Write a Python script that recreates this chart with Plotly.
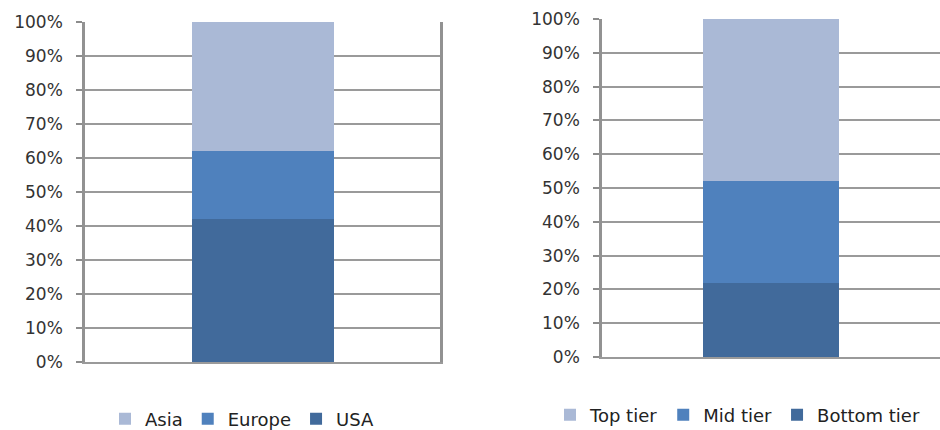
import plotly.graph_objects as go

# Left chart: region shares
left_series = ["USA", "Europe", "Asia"]
left_values = [42, 20, 38]
# Right chart: tier shares
right_series = ["Bottom tier", "Mid tier", "Top tier"]
right_values = [22, 30, 48]
category = [""]
colors = ["#416A9B", "#4F81BD", "#AAB9D6"]
tick_vals = [0, 10, 20, 30, 40, 50, 60, 70, 80, 90, 100]
tick_text = [f"{v}%" for v in tick_vals]

W, H = 940, 430
FONT = "DejaVu Sans, Liberation Sans, sans-serif"

fig = go.Figure()
for name, val, col in zip(left_series, left_values, colors):
    fig.add_trace(go.Bar(x=category, y=[val], name=name, marker=dict(color=col, line=dict(width=0)),
                         xaxis="x", yaxis="y", legend="legend", width=0.4))
for name, val, col in zip(right_series, right_values, colors):
    fig.add_trace(go.Bar(x=category, y=[val], name=name, marker=dict(color=col, line=dict(width=0)),
                         xaxis="x2", yaxis="y2", legend="legend2", width=0.4))

def px_x(p):
    return p / W

def px_y(p):
    return 1 - p / H

yax_common = dict(range=[0, 100], tickvals=tick_vals, ticktext=tick_text,
                  showgrid=True, gridcolor="#9A9A9A", gridwidth=1.5,
                  showline=True, linecolor="#929292", linewidth=2.5,
                  ticks="outside", ticklen=6, tickcolor="#8C8C8C", tickwidth=1.5,
                  ticklabelstandoff=10, automargin=False,
                  tickfont=dict(family=FONT, size=17, color="#333333"),
                  zeroline=False, fixedrange=True)
xax_common = dict(showticklabels=False, showgrid=False, zeroline=False, automargin=False,
                  showline=True, linecolor="#9A9A9A", linewidth=2, ticks="")

fig.update_layout(
    width=W, height=H,
    margin=dict(l=0, r=0, t=0, b=0, autoexpand=False),
    paper_bgcolor="white", plot_bgcolor="white",
    barmode="stack", bargap=0.6,
    xaxis=dict(domain=[px_x(85), px_x(440)], anchor="y", **xax_common),
    yaxis=dict(domain=[px_y(362), px_y(22)], anchor="x", mirror=True, **yax_common),
    xaxis2=dict(domain=[px_x(602), 1.0], anchor="y2", **xax_common),
    yaxis2=dict(domain=[px_y(357), px_y(19)], anchor="x2", **yax_common),
    legend=dict(orientation="h", x=px_x(105), y=px_y(419), xanchor="left", yanchor="middle",
                traceorder="reversed", font=dict(family=FONT, size=18, color="#222222"),
                bgcolor="rgba(0,0,0,0)"),
    legend2=dict(orientation="h", x=px_x(550), y=px_y(415), xanchor="left", yanchor="middle",
                 traceorder="reversed", font=dict(family=FONT, size=18, color="#222222"),
                 bgcolor="rgba(0,0,0,0)"),
    showlegend=True,
)

fig.write_html("out.html")
